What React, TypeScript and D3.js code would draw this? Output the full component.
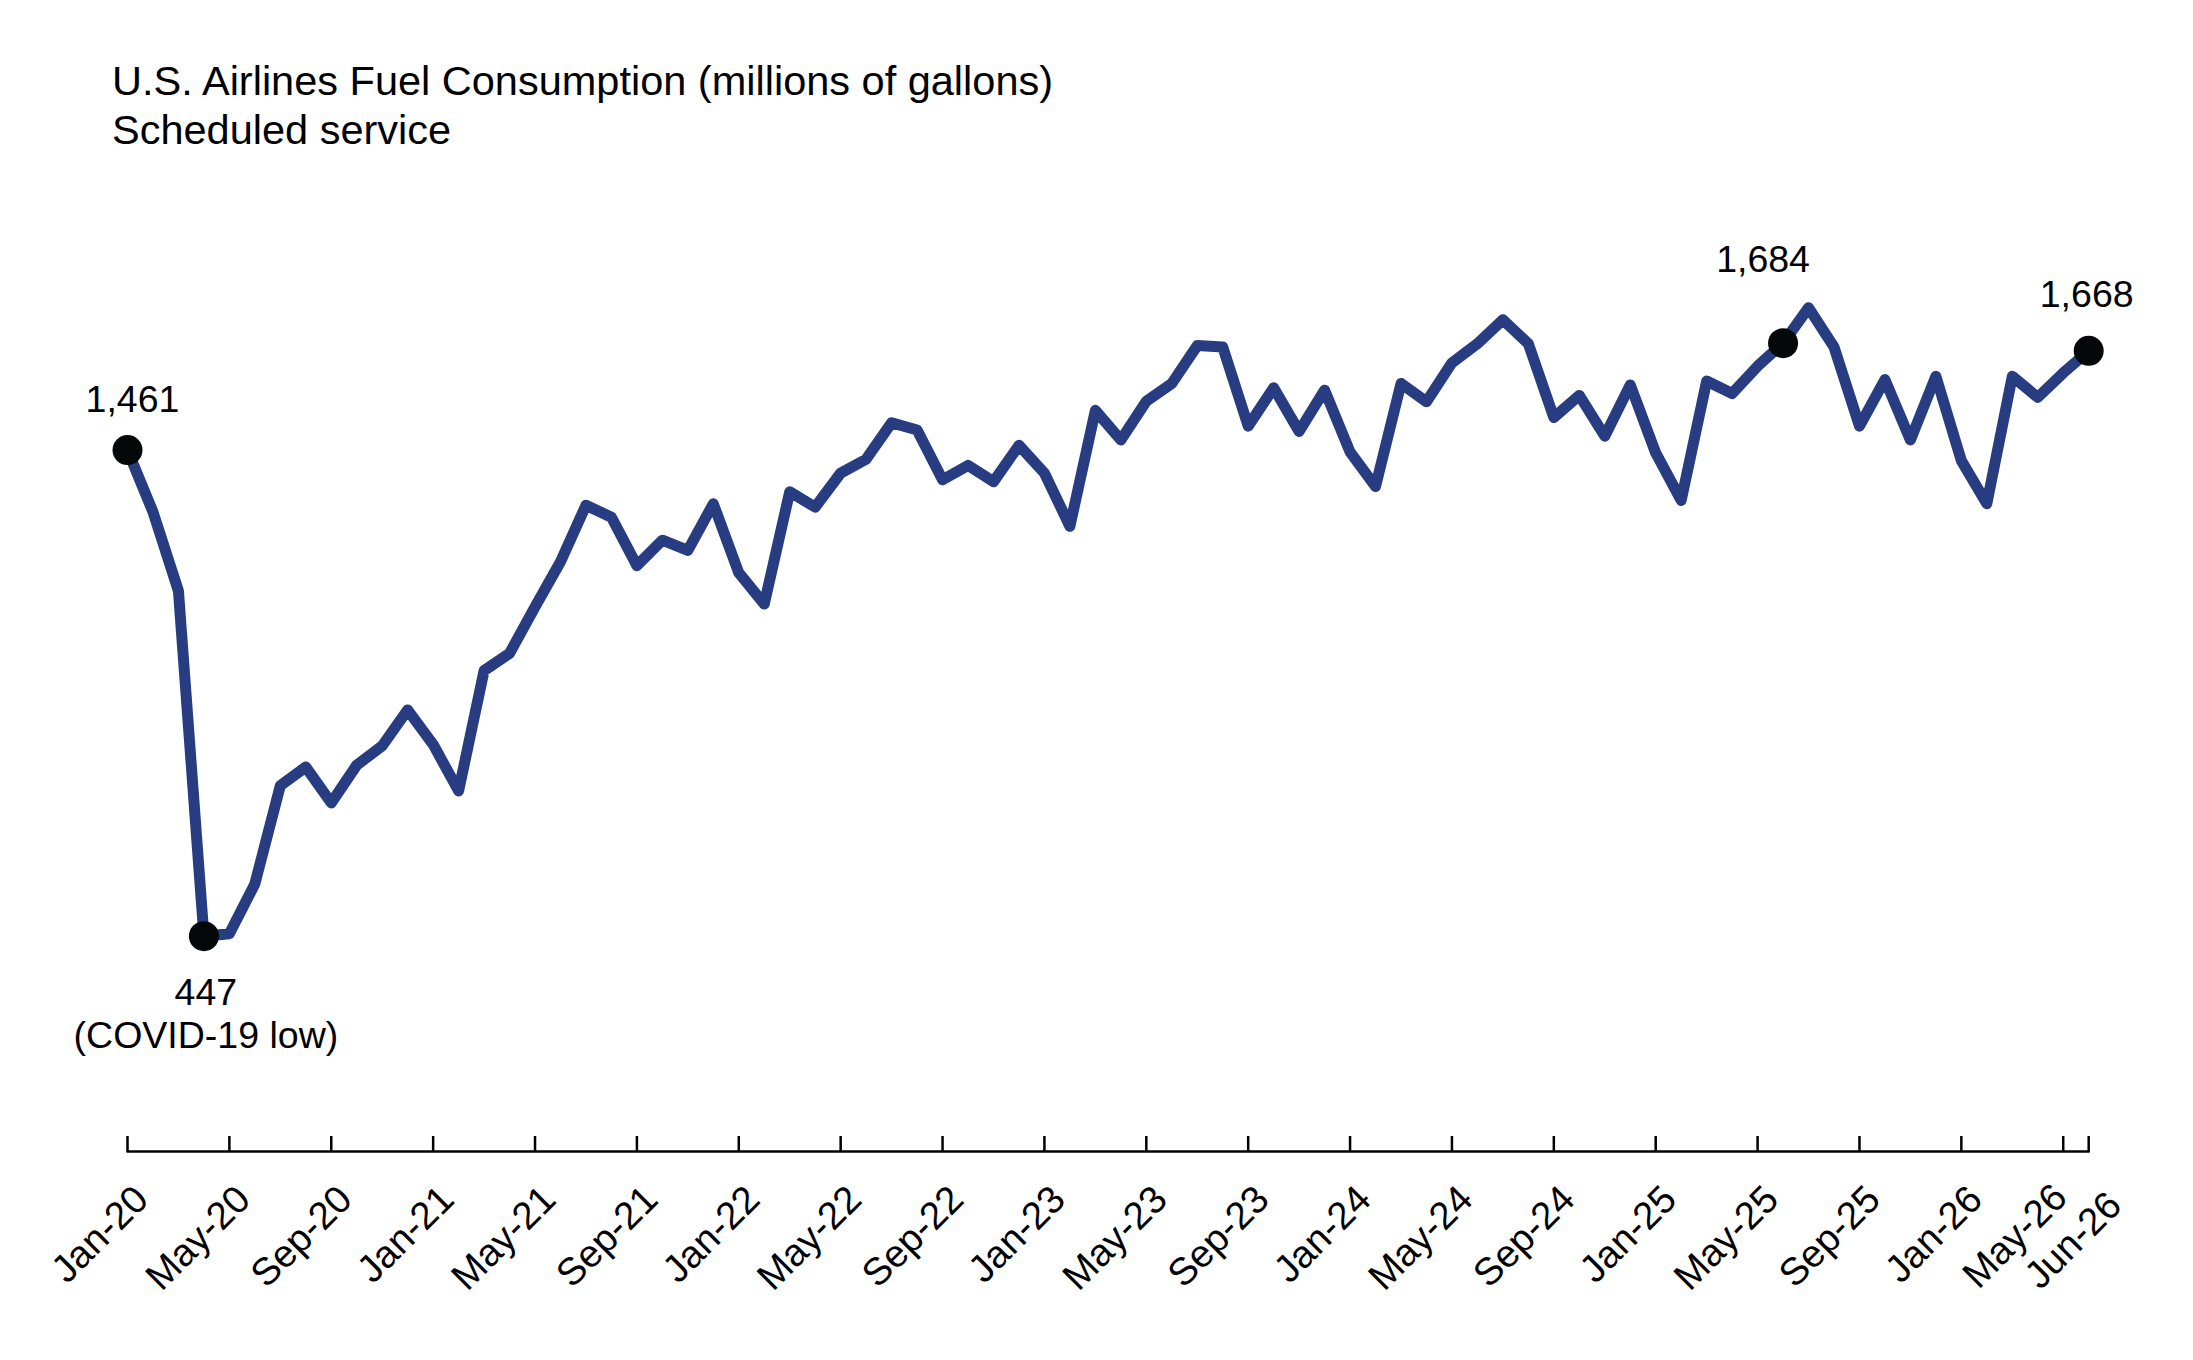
import React from "react";
import * as d3 from "d3";

// ---- Data ----
const startMonth = new Date(Date.UTC(2020, 0, 1));
const endMonth = new Date(Date.UTC(2026, 5, 1));
const months: Date[] = d3.utcMonths(startMonth, d3.utcMonth.offset(endMonth, 1));
const fmtMonth = d3.utcFormat("%b-%y");
const monthLabels: string[] = months.map((m) => fmtMonth(m));

// U.S. airlines fuel consumption, millions of gallons (scheduled service)
const fuelValues: number[] = [
  1461, 1332, 1167, 447, 452, 556, 761, 800, 725, 804,
  844, 919, 847, 750, 1001, 1037, 1134, 1228, 1346, 1321,
  1220, 1273, 1252, 1349, 1205, 1140, 1374, 1342, 1413, 1442,
  1518, 1503, 1399, 1429, 1395, 1471, 1413, 1302, 1544, 1482,
  1563, 1600, 1679, 1676, 1511, 1591, 1500, 1586, 1457, 1385,
  1600, 1562, 1643, 1683, 1733, 1683, 1529, 1575, 1490, 1597,
  1455, 1356, 1605, 1579, 1636, 1684, 1758, 1676, 1511, 1608,
  1482, 1615, 1439, 1349, 1615, 1571, 1622, 1668,
];

// tick months: every 4th month plus the last month
const tickIndices: number[] = [
  ...d3.range(0, monthLabels.length, 4),
  monthLabels.length - 1,
];

const titleLines: string[] = [
  "U.S. Airlines Fuel Consumption (millions of gallons)",
  "Scheduled service",
];

// highlighted points and their labels
const highlightIdx: number[] = [0, 3, 65, 77];
const highlightText: string[][] = [
  ["1,461"],
  ["447", "(COVID-19 low)"],
  ["1,684"],
  ["1,668"],
];

// ---- Layout / style ----
const W = 2193;
const H = 1360;
const FONT = "'Liberation Sans', Arial, Helvetica, sans-serif";
const LINE_COLOR = "#283C82";
const DOT_COLOR = "#050808";
const axisY = 1151.5;
const labelOffsets = [
  { dx: 5, dy: -38 },
  { dx: 2, dy: 69 },
  { dx: -20, dy: -71 },
  { dx: -2, dy: -44 },
];
// small nudges for the two crowded last tick labels
const tickNudge: Record<number, [number, number]> = {
  76: [-17, -2],
  77: [12, 6],
};

export default function App() {
  const x = d3
    .scaleLinear()
    .domain([0, monthLabels.length - 1])
    .range([127.5, 2088.7]);
  const y = d3.scaleLinear().domain([0, 2000]).range([1150.5, 191.7]);

  const line = d3
    .line<number>()
    .x((_, i) => x(i))
    .y((d) => y(d));

  return (
    <svg
      width={W}
      height={H}
      viewBox={`0 0 ${W} ${H}`}
      style={{ position: "absolute", left: 0, top: 0, display: "block", background: "#fff" }}
      fontFamily={FONT}
    >
      <rect x={0} y={0} width={W} height={H} fill="#fff" />
      {/* Title */}
      {titleLines.map((t, i) => (
        <text key={t} x={112} y={95 + i * 49} fontSize={41.5} fill="#000">
          {t}
        </text>
      ))}

      {/* Axis */}
      <line
        x1={x(0) - 1}
        x2={x(monthLabels.length - 1) + 1}
        y1={axisY}
        y2={axisY}
        stroke="#000"
        strokeWidth={2.5}
      />
      {tickIndices.map((ti) => {
        const [nx, ny] = tickNudge[ti] || [0, 0];
        return (
          <g key={ti}>
            <line
              x1={x(ti)}
              x2={x(ti)}
              y1={axisY - 15.5}
              y2={axisY}
              stroke="#000"
              strokeWidth={2.5}
            />
            <text
              transform={`translate(${x(ti) + 23 + nx},${axisY + 50 + ny}) rotate(-45)`}
              textAnchor="end"
              fontSize={38.5}
              fill="#000"
            >
              {monthLabels[ti]}
            </text>
          </g>
        );
      })}

      {/* Line */}
      <path
        d={line(fuelValues) || ""}
        fill="none"
        stroke={LINE_COLOR}
        strokeWidth={11}
        strokeLinejoin="round"
        strokeLinecap="round"
      />

      {/* Highlight points */}
      {highlightIdx.map((hi, k) => (
        <g key={hi}>
          <circle cx={x(hi)} cy={y(fuelValues[hi])} r={15} fill={DOT_COLOR} />
          {highlightText[k].map((t, j) => (
            <text
              key={t}
              x={x(hi) + labelOffsets[k].dx}
              y={y(fuelValues[hi]) + labelOffsets[k].dy + j * 43}
              textAnchor="middle"
              fontSize={37.5}
              fill="#000"
            >
              {t}
            </text>
          ))}
        </g>
      ))}
    </svg>
  );
}
